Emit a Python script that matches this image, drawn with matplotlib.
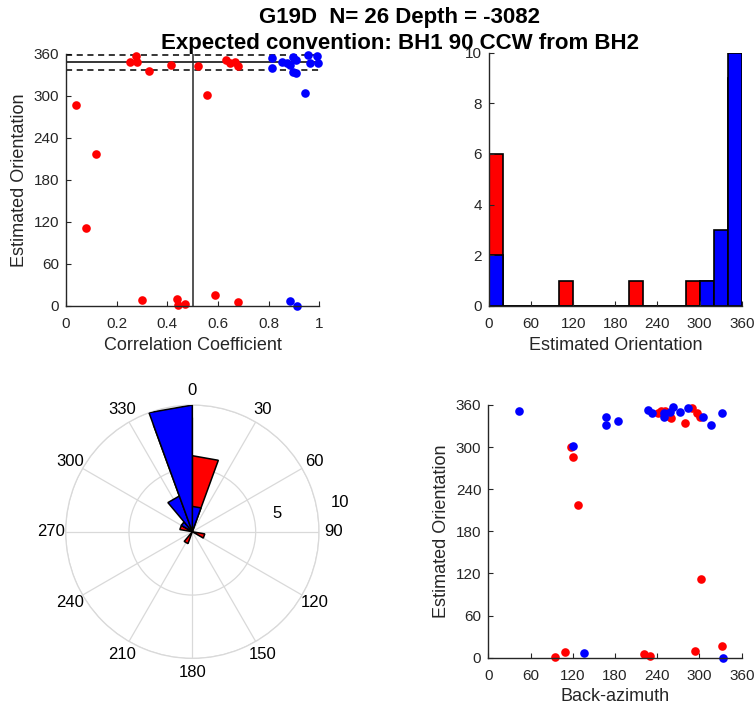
import numpy as np
import matplotlib
matplotlib.use("Agg")
import matplotlib.pyplot as plt

plt.rcParams['font.family'] = ['Liberation Sans', 'DejaVu Sans']

# station results
corr_red = [0.038, 0.078, 0.12, 0.253, 0.275, 0.28, 0.326, 0.416, 0.522, 0.557,
            0.63, 0.647, 0.667, 0.68, 0.30, 0.438, 0.442, 0.471, 0.588, 0.678]
orient_red = [287, 112, 217, 348, 357, 349, 336, 344, 343, 302,
              352, 347, 349, 343, 8.6, 9.5, 1.4, 3, 16, 6]

corr_blue = [0.812, 0.812, 0.851, 0.871, 0.883, 0.895, 0.91, 0.895, 0.91, 0.943,
             0.956, 0.963, 0.99, 0.996, 0.884, 0.914]
orient_blue = [354, 339.5, 349, 346.7, 344, 356, 351, 334, 333, 304,
               359, 347, 357, 347, 7, 0.5]

# back-azimuth panel
baz_red = [118, 121, 127, 95, 109, 221, 230, 294, 302, 332,
           241, 246, 251, 258, 260, 279, 289, 296, 301]
baz_orient_red = [300, 286, 217, 1.5, 8, 5, 2, 9, 112, 16,
                  348, 352, 352, 343, 342, 335, 355, 348, 343]
baz_blue = [44, 121, 136, 167, 167, 184, 227, 232, 249, 249,
            258, 263, 272, 284, 305, 317, 332, 333]
baz_orient_blue = [352, 301.5, 6, 343, 332, 337, 353, 348, 348, 343,
                   350, 357.5, 350, 355, 343, 332, 348, 0]

mean_orient = 348
orient_err = 11
corr_cut = 0.5

orient_ticks = [0, 60, 120, 180, 240, 300, 360]
corr_ticks = [0, 0.2, 0.4, 0.6, 0.8, 1]
corr_ticklabels = ['0', '0.2', '0.4', '0.6', '0.8', '1']
count_ticks = [0, 2, 4, 6, 8, 10]
bin_edges = np.arange(0, 361, 20)

title1 = 'G19D  N= 26 Depth = -3082'
title2 = 'Expected convention: BH1 90 CCW from BH2'

dark = '#262626'
tick_fs = 11
label_fs = 13
ms = 6.2


def matlab_style(ax):
    for s in ['top', 'right']:
        ax.spines[s].set_visible(False)
    for s in ['left', 'bottom']:
        ax.spines[s].set_color(dark)
        ax.spines[s].set_linewidth(1.0)
    ax.tick_params(direction='in', length=3.5, width=0.8, colors=dark,
                   labelsize=tick_fs, pad=5)
    ax.tick_params(axis='x', pad=8)
    ax.xaxis.labelpad = 4


fig = plt.figure(figsize=(7.56, 7.06), dpi=100)

# top left: correlation vs orientation
ax1 = fig.add_axes([0.0873, 0.5666, 0.335, 0.357])
ax1.axhline(mean_orient, color=dark, lw=1.3)
ax1.axhline(mean_orient + orient_err, color='k', lw=1.1, ls=(0, (4, 3)))
ax1.axhline(mean_orient - orient_err, color='k', lw=1.1, ls=(0, (4, 3)))
ax1.axvline(corr_cut, color=dark, lw=1.1)
ax1.plot(corr_red, orient_red, 'o', color='red', ms=ms, mec='none', clip_on=False)
ax1.plot(corr_blue, orient_blue, 'o', color='blue', ms=ms, mec='none', clip_on=False)
ax1.set_xlim(0, 1)
ax1.set_ylim(0, 360)
ax1.set_xticks(corr_ticks)
ax1.set_xticklabels(corr_ticklabels)
ax1.set_yticks(orient_ticks)
ax1.set_xlabel('Correlation Coefficient', fontsize=label_fs, color=dark)
ax1.set_ylabel('Estimated Orientation', fontsize=label_fs, color=dark)
matlab_style(ax1)

# top right: histogram of orientations
ax2 = fig.add_axes([0.6468, 0.5666, 0.3343, 0.3588])
ax2.hist(orient_red, bins=bin_edges, color='red', edgecolor='k', lw=1.2)
ax2.hist(orient_blue, bins=bin_edges, color='blue', edgecolor='k', lw=1.2)
ax2.set_xlim(0, 360)
ax2.set_ylim(0, 10)
ax2.set_xticks(orient_ticks)
ax2.set_yticks(count_ticks)
ax2.set_xlabel('Estimated Orientation', fontsize=label_fs, color=dark)
matlab_style(ax2)

# bottom left: rose diagram
ax3 = fig.add_axes([0.0868, 0.0674, 0.3352, 0.3589], projection='polar')
ax3.set_theta_zero_location('N')
ax3.set_theta_direction(-1)
for vals, col in [(orient_red, 'red'), (orient_blue, 'blue')]:
    counts, _ = np.histogram(vals, bins=bin_edges)
    for lo, hi, c in zip(bin_edges[:-1], bin_edges[1:], counts):
        if c == 0:
            continue
        th = np.deg2rad([lo, lo, hi, lo])
        rr = [0, c, c, 0]
        ax3.fill(th, rr, facecolor=col, edgecolor='k', lw=1.1, zorder=3)
ax3.set_ylim(0, 10)
ax3.set_yticks([5, 10])
ax3.set_yticklabels([])
ax3.set_thetagrids(range(0, 360, 30), [str(a) for a in range(0, 360, 30)],
                   fontsize=12, color='k')
ax3.tick_params(axis='x', pad=0)
ax3.grid(color='#d9d9d9', lw=0.9)
ax3.spines['polar'].set_color('#d9d9d9')
ax3.spines['polar'].set_linewidth(0.9)
ax3.text(np.deg2rad(78), 6.8, '5', fontsize=12, ha='center', va='center')
ax3.text(np.deg2rad(79), 11.9, '10', fontsize=12, ha='center', va='center',
         clip_on=False)

# bottom right: back-azimuth vs orientation
ax4 = fig.add_axes([0.6459, 0.0684, 0.3352, 0.358])
ax4.plot(baz_red, baz_orient_red, 'o', color='red', ms=ms, mec='none', clip_on=False)
ax4.plot(baz_blue, baz_orient_blue, 'o', color='blue', ms=ms, mec='none', clip_on=False)
ax4.set_xlim(0, 360)
ax4.set_ylim(0, 360)
ax4.set_xticks(orient_ticks)
ax4.set_yticks(orient_ticks)
ax4.set_xlabel('Back-azimuth', fontsize=label_fs, color=dark)
ax4.set_ylabel('Estimated Orientation', fontsize=label_fs, color=dark)
matlab_style(ax4)

fig.text(0.529, 1 - 17 / 706, title1, ha='center', va='center',
         fontsize=16, fontweight='bold')
fig.text(0.529, 1 - 43 / 706, title2, ha='center', va='center',
         fontsize=16, fontweight='bold')

fig.savefig('out.png', dpi=100)
